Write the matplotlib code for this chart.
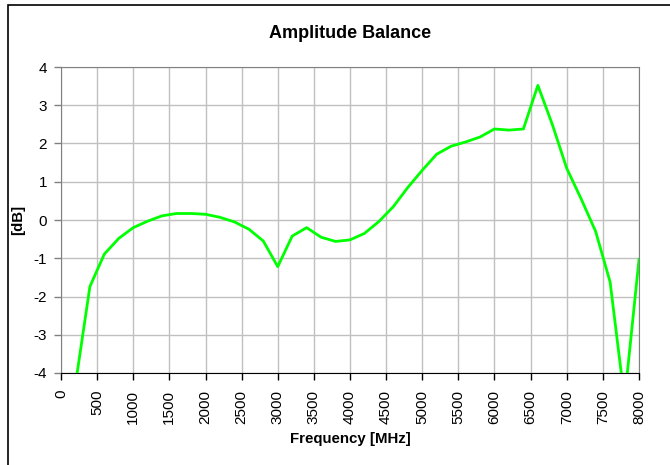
import matplotlib
matplotlib.use("Agg")
import matplotlib.pyplot as plt
from matplotlib.patches import Rectangle

plt.rcParams['font.family'] = ['Liberation Sans', 'DejaVu Sans']

# frequency points [MHz] and amplitude balance [dB]
freq = [200, 400, 600, 800, 1000, 1200, 1400, 1600, 1800, 2000,
        2200, 2400, 2600, 2800, 3000, 3200, 3400, 3600, 3800, 4000,
        4200, 4400, 4600, 4800, 5000, 5200, 5400, 5600, 5800, 6000,
        6200, 6400, 6600, 6800, 7000, 7200, 7400, 7600, 7800, 8000]
balance = [-4.3, -1.74, -0.89, -0.48, -0.2, -0.03, 0.11, 0.17, 0.17, 0.15,
           0.07, -0.05, -0.24, -0.55, -1.22, -0.42, -0.2, -0.45, -0.56, -0.52,
           -0.35, -0.04, 0.35, 0.85, 1.3, 1.72, 1.93, 2.04, 2.17, 2.38,
           2.35, 2.38, 3.52, 2.5, 1.35, 0.55, -0.3, -1.62, -4.7, -1.03]

xticks = list(range(0, 8001, 500))
yticks = list(range(-4, 5))

W, H = 670, 465
fig = plt.figure(figsize=(W / 100, H / 100), dpi=100)

# chart frame (Excel style, runs off the right/bottom edge)
fig.patches.append(Rectangle((8 / W, -0.1), 1.2, 1 - 5.5 / H + 0.1,
                             transform=fig.transFigure, fill=False,
                             edgecolor='black', linewidth=1.2))

ax = fig.add_axes([61 / W, 1 - 373 / H, (639 - 61) / W, (373 - 67) / H])
ax.plot(freq, balance, color='#00ff00', linewidth=2, zorder=3)

ax.set_xlim(0, 8000)
ax.set_ylim(-4, 4)
ax.set_xticks(xticks)
ax.set_yticks(yticks)
ax.set_xticklabels([str(v) for v in xticks], rotation=90, fontsize=11)
ax.set_yticklabels([str(v) for v in yticks], fontsize=11)

ax.grid(True, color='#c0c0c0', linewidth=1)
ax.set_axisbelow(True)

for side in ['top', 'right', 'left']:
    ax.spines[side].set_color('#808080')
ax.spines['bottom'].set_color('black')
ax.tick_params(axis='y', colors='#808080', labelcolor='black', length=5, width=1, pad=5)
ax.tick_params(axis='x', colors='black', length=5, width=1, pad=7)

ax.set_title('Amplitude Balance', fontsize=13, fontweight='bold', pad=21)
ax.set_xlabel('Frequency [MHz]', fontsize=10.8, fontweight='bold', labelpad=6)
ax.set_ylabel('[dB]', fontsize=10.8, fontweight='bold', labelpad=6)

fig.savefig('out.png', dpi=100)
